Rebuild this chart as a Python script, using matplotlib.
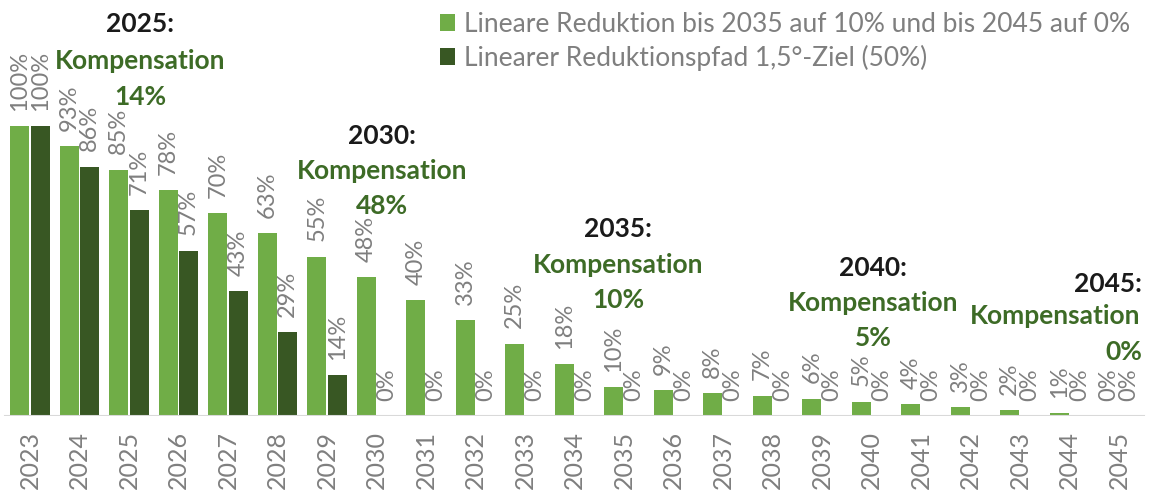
import matplotlib
matplotlib.use("Agg")
import numpy as np
from matplotlib import pyplot as plt

plt.rcParams["font.family"] = ["Lato", "DejaVu Sans"]

years = [str(y) for y in range(2023, 2046)]
linear = [100, 93, 85, 78, 70, 63, 55, 48, 40, 33, 25, 18, 10, 9, 8, 7, 6, 5, 4, 3, 2, 1, 0]
path15 = [100, 86, 71, 57, 43, 29, 14] + [0] * 16

legend_labels = [
    "Lineare Reduktion bis 2035 auf 10% und bis 2045 auf 0%",
    "Linearer Reduktionspfad 1,5°-Ziel (50%)",
]

# milestone notes
notes_year = ["2025:", "2030:", "2035:", "2040:", "2045:"]
notes_comp = ["14%", "48%", "10%", "5%", "0%"]

light = "#70AD47"
dark = "#385723"
gray = "#7f7f7f"
green_txt = "#3d6b26"
fs_note = 19


def main():
    fig = plt.figure(figsize=(11.49, 4.97), dpi=100)
    ax = fig.add_axes([0, 81 / 497, 1, 416 / 497])

    x = np.arange(len(years))
    w = 0.38
    off = 0.205
    v1 = np.array(linear) / 100
    v2 = np.array(path15) / 100
    b1 = ax.bar(x - off, v1, w, color=light, label=legend_labels[0])
    b2 = ax.bar(x + off, v2, w, color=dark, label=legend_labels[1])

    for xs, vals in ((x - off, linear), (x + off, path15)):
        for xi, v in zip(xs, vals):
            ax.annotate(f"{v}%", (xi, v / 100), xytext=(0, 11), textcoords="offset points",
                        rotation=90, ha="center", va="bottom", color=gray, fontsize=17)

    ax.set_xlim(-30 / 49.5, (1149 - 30) / 49.5)
    ax.set_ylim(0, 416 / 290)
    ax.axhline(0, xmin=0.004, xmax=0.996, color="#d9d9d9", lw=1.5)
    for s in ax.spines.values():
        s.set_visible(False)
    ax.set_yticks([])
    ax.set_xticks(x)
    ax.set_xticklabels(years, rotation=90, color=gray, fontsize=18)
    ax.tick_params(axis="x", length=0, pad=11)

    # annotation positions (data coords)
    pos = [
        (2.22, 1.35, 1.225, 1.10),
        (7.11, 0.965, 0.845, 0.725),
        (11.88, 0.645, 0.52, 0.40),
        (17.03, 0.51, 0.39, 0.27),
    ]
    for (xc, y1, y2, y3), t, c in zip(pos, notes_year, notes_comp):
        ax.text(xc, y1, t, ha="center", va="center", fontsize=fs_note, fontweight="bold", color="#1a1a1a")
        ax.text(xc, y2, "Kompensation", ha="center", va="center", fontsize=fs_note, fontweight="bold",
                color=green_txt)
        ax.text(xc, y3, c, ha="center", va="center", fontsize=fs_note, fontweight="bold", color=green_txt)
    xr = (1142 - 30) / 49.5
    ax.text(xr, 0.455, notes_year[4], ha="right", va="center", fontsize=fs_note, fontweight="bold",
            color="#1a1a1a")
    ax.text((1055 - 30) / 49.5, 0.345, "Kompensation", ha="center", va="center", fontsize=fs_note,
            fontweight="bold", color=green_txt)
    ax.text(xr, 0.22, notes_comp[4], ha="right", va="center", fontsize=fs_note, fontweight="bold",
            color=green_txt)

    fig.legend(handles=[b1, b2], loc="upper left", bbox_to_anchor=(440 / 1149, 1 - 12 / 497),
               frameon=False, fontsize=19, labelcolor=gray, handlelength=0.55, handleheight=0.6,
               handletextpad=0.35, labelspacing=0.3, borderpad=0, borderaxespad=0)

    fig.savefig("out.png", dpi=100)


if __name__ == "__main__":
    main()
